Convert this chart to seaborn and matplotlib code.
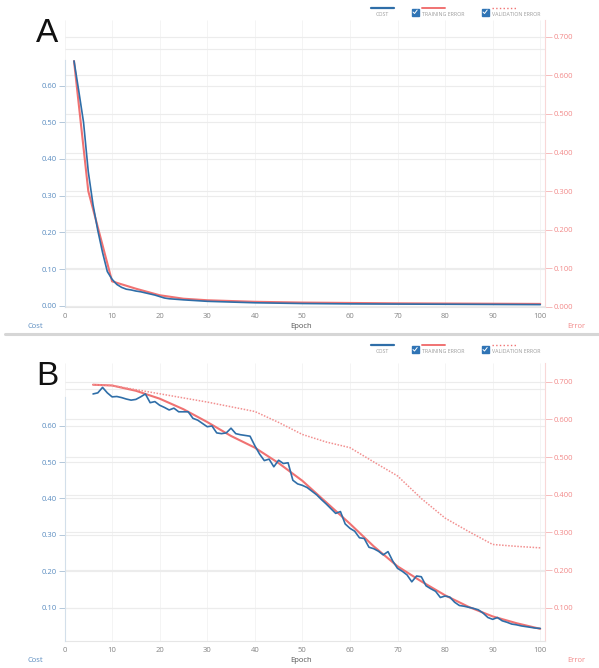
import numpy as np
import pandas as pd
import matplotlib
matplotlib.use("Agg")
import matplotlib.pyplot as plt
from matplotlib.lines import Line2D
from matplotlib.patches import Rectangle
import seaborn as sns

# ---------------- data ----------------
x_ticks = [0, 10, 20, 30, 40, 50, 60, 70, 80, 90, 100]

# Panel A
a_cost_epoch = [2, 3, 4, 5, 6, 7, 8, 9, 10, 11, 12, 13, 14, 15, 16, 17, 18, 19, 20,
                21, 22, 25, 30, 35, 40, 50, 60, 70, 80, 90, 100]
a_cost = [0.667, 0.585, 0.500, 0.365, 0.275, 0.205, 0.145, 0.093, 0.072, 0.058,
          0.050, 0.045, 0.043, 0.040, 0.038, 0.035, 0.032, 0.029, 0.025, 0.021,
          0.019, 0.016, 0.012, 0.010, 0.008, 0.006, 0.005, 0.0045, 0.004, 0.0035, 0.003]
a_train_epoch = [2, 5, 10, 15, 20, 25, 30, 40, 50, 60, 70, 80, 90, 100]
a_train_err = [0.637, 0.300, 0.066, 0.047, 0.030, 0.021, 0.017, 0.013, 0.011,
               0.010, 0.009, 0.0085, 0.008, 0.0075]

# Panel B
b_cost_epoch = list(range(6, 101))
b_cost = [0.687, 0.690, 0.705, 0.690, 0.679, 0.680, 0.677, 0.673, 0.670, 0.672,
          0.679, 0.687, 0.663, 0.666, 0.656, 0.650, 0.643, 0.648, 0.638, 0.638,
          0.638, 0.620, 0.615, 0.606, 0.597, 0.599, 0.580, 0.578, 0.580, 0.593,
          0.578, 0.575, 0.573, 0.571, 0.545, 0.522, 0.504, 0.508, 0.487, 0.505,
          0.496, 0.498, 0.450, 0.440, 0.436, 0.430, 0.420, 0.410, 0.397, 0.385,
          0.372, 0.359, 0.364, 0.330, 0.318, 0.310, 0.292, 0.290, 0.266, 0.262,
          0.255, 0.245, 0.254, 0.228, 0.208, 0.200, 0.190, 0.171, 0.187, 0.185,
          0.160, 0.152, 0.145, 0.128, 0.132, 0.129, 0.115, 0.106, 0.104, 0.101,
          0.098, 0.094, 0.085, 0.073, 0.068, 0.073, 0.064, 0.060, 0.055, 0.053,
          0.050, 0.048, 0.046, 0.044, 0.043]
b_train_epoch = [6, 10, 15, 20, 25, 30, 35, 40, 45, 50, 55, 60, 65, 70, 75, 80, 85, 90, 95, 100]
b_train_err = [0.692, 0.690, 0.676, 0.655, 0.627, 0.593, 0.556, 0.525, 0.484, 0.437,
               0.380, 0.323, 0.263, 0.210, 0.170, 0.133, 0.102, 0.077, 0.059, 0.044]
b_val_epoch = [6, 10, 20, 30, 40, 45, 50, 55, 60, 65, 70, 75, 80, 85, 90, 95, 100]
b_val_err = [0.692, 0.690, 0.668, 0.646, 0.621, 0.592, 0.560, 0.540, 0.525, 0.487,
             0.450, 0.390, 0.338, 0.302, 0.268, 0.263, 0.259]

# ---------------- style ----------------
sns.set_theme(style="white")
plt.rcParams['font.family'] = ['Open Sans', 'DejaVu Sans']

W, H = 599, 668
C_COST = "#2f6ea8"
C_TRAIN = "#f07272"
C_VAL = "#f29090"
C_LEFT_LBL = "#5a8cc0"
C_RIGHT_LBL = "#f28a8a"
C_GRID = "#ececec"

fig = plt.figure(figsize=(W / 100, H / 100), dpi=100)
fig.patch.set_facecolor("white")

X0, X1 = 64.5, 545.0


def fx(x):
    return x / W


def fy(y):
    return 1 - y / H


def draw_panel(top, bottom, cost_lim, err_lim, cost_spine_top, cost_ticks, err_ticks,
               cost_grid, cost_df, train_df, val_df, letter, legend_y):
    ax_err = fig.add_axes([fx(X0), fy(bottom), fx(X1 - X0), (bottom - top) / H], label=letter + "err")
    ax_cost = fig.add_axes([fx(X0), fy(bottom), fx(X1 - X0), (bottom - top) / H], label=letter + "cost")
    ax_cost.set_zorder(2)
    ax_err.set_zorder(1)
    ax_cost.patch.set_visible(False)

    for a in (ax_err, ax_cost):
        a.set_xlim(0, 101)
    ax_cost.set_ylim(*cost_lim)
    ax_err.set_ylim(*err_lim)

    # grid lines (all in the lower axes so the series sit above them)
    ax_err.vlines(x_ticks, err_lim[0], err_lim[1], color="#f4f4f4", lw=0.7, zorder=0)
    ax_err.hlines(err_ticks, 0, 101, color=C_GRID, lw=0.8, zorder=0)
    ax_err.hlines(cost_grid, 0, 101, color=C_GRID, lw=0.8, zorder=0,
                  transform=ax_cost.transData)

    # series
    sns.lineplot(data=train_df, x="epoch", y="value", ax=ax_err, color=C_TRAIN,
                 lw=1.5, zorder=3)
    if val_df is not None:
        sns.lineplot(data=val_df, x="epoch", y="value", ax=ax_err, color=C_VAL,
                     lw=1.1, ls=(0, (1, 1)), zorder=3)
    sns.lineplot(data=cost_df, x="epoch", y="value", ax=ax_cost, color=C_COST,
                 lw=1.2, zorder=4)

    # axes styling
    for a in (ax_err, ax_cost):
        a.set_xlabel("")
        a.set_ylabel("")
        for s in a.spines.values():
            s.set_visible(False)
    ax_cost.spines["left"].set_visible(True)
    ax_cost.spines["left"].set_color("#d3dfea")
    ax_cost.spines["left"].set_linewidth(0.8)
    ax_cost.spines["left"].set_bounds(cost_lim[0], cost_spine_top)
    ax_err.spines["right"].set_visible(True)
    ax_err.spines["right"].set_color("#f8d8d8")
    ax_err.spines["right"].set_linewidth(0.8)
    ax_err.spines["bottom"].set_visible(True)
    ax_err.spines["bottom"].set_color("#e6e6e6")
    ax_err.spines["bottom"].set_linewidth(0.8)

    ax_cost.yaxis.tick_left()
    ax_cost.set_yticks(cost_ticks)
    ax_cost.set_yticklabels([f"{v:.2f}" for v in cost_ticks])
    ax_cost.tick_params(axis="y", direction="out", length=4, width=0.7,
                        color="#b4c8da", labelcolor=C_LEFT_LBL, labelsize=5.5, pad=1.5)
    ax_cost.set_xticks([])

    ax_err.yaxis.tick_right()
    ax_err.set_yticks(err_ticks)
    ax_err.set_yticklabels([f"{v:.3f}" for v in err_ticks])
    ax_err.tick_params(axis="y", direction="out", length=5, width=0.7,
                       color="#f6bcbc", labelcolor=C_RIGHT_LBL, labelsize=5.5, pad=1)
    ax_err.set_xticks(x_ticks)
    ax_err.set_xticklabels([str(t) for t in x_ticks])
    ax_err.tick_params(axis="x", length=0, labelcolor="#858585", labelsize=5.5, pad=4)

    # axis captions
    lab_y = bottom + 19
    fig.text(fx(35), fy(lab_y), "Cost", color=C_LEFT_LBL, fontsize=5.5, ha="center", va="center")
    fig.text(fx(301), fy(lab_y), "Epoch", color="#555555", fontsize=5.5, ha="center", va="center")
    fig.text(fx(576), fy(lab_y), "Error", color=C_RIGHT_LBL, fontsize=5.5, ha="center", va="center")

    # panel letter
    fig.text(fx(36), fy(top + 22), letter, fontsize=24, family=["Liberation Sans", "DejaVu Sans"],
             color="#111111", va="baseline", ha="left")

    # legend
    ly = legend_y
    fig.add_artist(Line2D([fx(371), fx(394)], [fy(ly), fy(ly)], color=C_COST, lw=1.6,
                          transform=fig.transFigure))
    fig.text(fx(382), fy(ly + 6.5), "COST", fontsize=3.8, color="#9a9a9a", ha="center", va="center")
    for bx, lx0, lx1, style, txt in [(411.5, 422, 445, "-", "TRAINING ERROR"),
                                     (481.5, 492, 516, ":", "VALIDATION ERROR")]:
        fig.add_artist(Rectangle((fx(bx), fy(ly + 8)), 7 / W, 7 / H, color="#2f74b5",
                                 transform=fig.transFigure))
        fig.add_artist(Line2D([fx(bx + 1.5), fx(bx + 3), fx(bx + 5.7)],
                              [fy(ly + 4.5), fy(ly + 6), fy(ly + 2.5)],
                              color="white", lw=0.7, transform=fig.transFigure))
        fig.add_artist(Line2D([fx(lx0), fx(lx1)], [fy(ly), fy(ly)], color=C_TRAIN,
                              lw=1.4 if style == "-" else 1.0, ls=style,
                              transform=fig.transFigure))
        fig.text(fx(lx0), fy(ly + 6.5), txt, fontsize=3.8, color="#9a9a9a", ha="left", va="center")


def frame(ep, vals):
    return pd.DataFrame({"epoch": ep, "value": vals})


# Panel A
draw_panel(top=20, bottom=307,
           cost_lim=(-0.0035, 0.7785), err_lim=(-0.0005, 0.7435),
           cost_spine_top=0.669,
           cost_ticks=[0.0, 0.1, 0.2, 0.3, 0.4, 0.5, 0.6],
           err_ticks=[0.0, 0.1, 0.2, 0.3, 0.4, 0.5, 0.6, 0.7],
           cost_grid=[0.0, 0.1, 0.2, 0.3, 0.4, 0.5, 0.6, 0.7],
           cost_df=frame(a_cost_epoch, a_cost),
           train_df=frame(a_train_epoch, a_train_err),
           val_df=None, letter="A", legend_y=7.5)

# Panel B
draw_panel(top=363, bottom=641,
           cost_lim=(0.0085, 0.772), err_lim=(0.0117, 0.7497),
           cost_spine_top=0.678,
           cost_ticks=[0.1, 0.2, 0.3, 0.4, 0.5, 0.6],
           err_ticks=[0.1, 0.2, 0.3, 0.4, 0.5, 0.6, 0.7],
           cost_grid=[0.1, 0.2, 0.3, 0.4, 0.5, 0.6, 0.7],
           cost_df=frame(b_cost_epoch, b_cost),
           train_df=frame(b_train_epoch, b_train_err),
           val_df=frame(b_val_epoch, b_val_err), letter="B", legend_y=345)

# divider between the two panels
fig.add_artist(Line2D([fx(5), fx(599)], [fy(333.5), fy(333.5)], color="#d6d6d6", lw=2.2,
                      transform=fig.transFigure))

fig.savefig("out.png", dpi=100, facecolor="white")
